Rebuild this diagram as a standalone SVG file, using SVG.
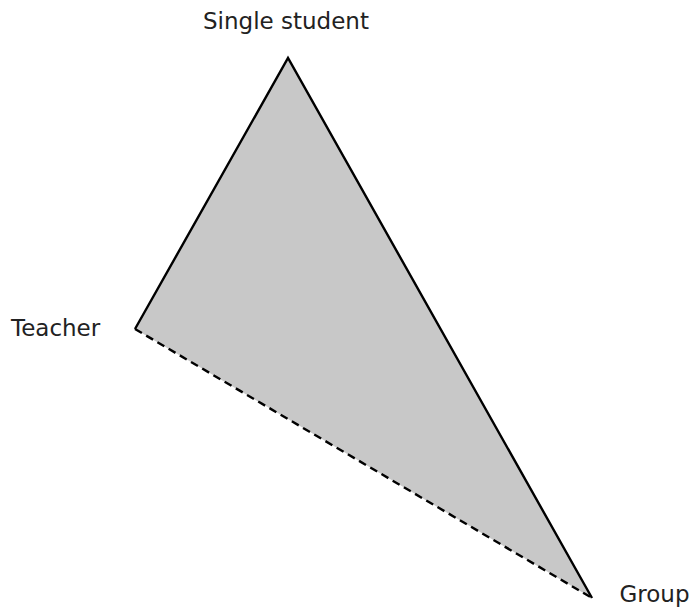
<svg xmlns="http://www.w3.org/2000/svg" width="695" height="607" viewBox="0 0 695 607">
<style>
.lbl{font-family:"DejaVu Sans",Verdana,sans-serif;font-size:23px;fill:#222}
.edge{stroke:#000;stroke-width:2.4;fill:none;stroke-linecap:butt;stroke-linejoin:miter}
.dash{stroke-dasharray:8,5}
</style>
<rect width="695" height="607" fill="#fff"/>
<polygon id="area" points="288,58 135,329 592,598" fill="#c8c8c8"/>
<g id="connectors">
<polyline class="edge" points="135,329 288,58 592,598"/>
<line class="edge dash" x1="135" y1="329" x2="592" y2="598"/>
</g>
<g id="single-student"><text class="lbl" x="286" y="28.5" text-anchor="middle">Single student</text></g>
<g id="teacher"><text class="lbl" x="11" y="335.5">Teacher</text></g>
<g id="group"><text class="lbl" x="619.5" y="601.5">Group</text></g>
</svg>
